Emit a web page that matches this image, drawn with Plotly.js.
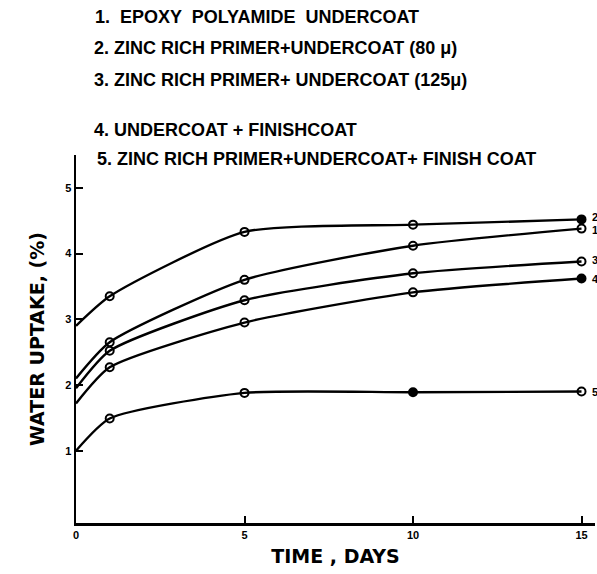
<!DOCTYPE html>
<html><head><meta charset="utf-8">
<script src="https://cdn.plot.ly/plotly-3.0.1.min.js"></script>
<style>body{margin:0;background:#fff}#chart{width:597px;height:574px}</style>
</head><body><div id="chart"></div>
<script>
const days = [0, 1, 5, 10, 15];
const seriesNames = ['1', '2', '3', '4', '5'];
const s1 = [2.1, 2.65, 3.6, 4.12, 4.38];
const s2 = [2.9, 3.35, 4.33, 4.44, 4.52];
const s3 = [1.95, 2.52, 3.29, 3.7, 3.88];
const s4 = [1.72, 2.27, 2.95, 3.41, 3.62];
const s5 = [1.0, 1.49, 1.88, 1.89, 1.9];
const legendLines = [
  '1.  EPOXY  POLYAMIDE  UNDERCOAT',
  '2. ZINC RICH PRIMER+UNDERCOAT (80 \u03bc)',
  '3. ZINC RICH PRIMER+ UNDERCOAT (125\u03bc)',
  '4. UNDERCOAT + FINISHCOAT',
  '5. ZINC RICH PRIMER+UNDERCOAT+ FINISH COAT'
];
const xTicks = [0, 5, 10, 15];
const yTicks = [1, 2, 3, 4, 5];

const allSeries = [s1, s2, s3, s4, s5];
const filled = [[], [4], [], [4], [3]];
const traces = [];
allSeries.forEach((ys, i) => {
  traces.push({x: days, y: ys, mode: 'lines', line: {color: '#000', width: 2.4, shape: 'spline', smoothing: 0.6}, hoverinfo: 'skip', showlegend: false});
  const mx = days.slice(1), my = ys.slice(1);
  const sym = mx.map((_, k) => filled[i].includes(k + 1) ? 'circle' : 'circle-open');
  traces.push({x: mx, y: my, mode: 'markers', marker: {symbol: sym, size: 8, color: '#000', line: {color: '#000', width: 2}}, showlegend: false});
});

const F = 'Liberation Sans, Arial, sans-serif';
const FD = 'DejaVu Sans, sans-serif';
const annotations = [];
const legY = [17, 48, 80, 130, 159];
const legX = [93, 92, 92, 92, 95];
legendLines.forEach((t, i) => {
  annotations.push({xref: 'paper', yref: 'paper', x: (legX[i] - 76) / 519, y: 1 + (155 - legY[i]) / 368, xanchor: 'left', yanchor: 'middle', text: '<b>' + t + '</b>', showarrow: false, font: {family: F, size: 18, color: '#000'}});
});
const endY = [4.36, 4.56, 3.9, 3.62, 1.9];
seriesNames.forEach((n, i) => {
  annotations.push({x: 15.25, y: endY[i], xref: 'x', yref: 'y', xanchor: 'left', yanchor: 'middle', text: '<b>' + n + '</b>', showarrow: false, font: {family: F, size: 11, color: '#000'}});
});

const layout = {
  width: 597, height: 574,
  margin: {l: 76, r: 2, t: 155, b: 51},
  paper_bgcolor: '#fff', plot_bgcolor: '#fff',
  showlegend: false,
  xaxis: {range: [0, 15.4], tickvals: xTicks, ticktext: xTicks.map(String), ticks: 'inside', ticklen: 7, tickwidth: 2, tickcolor: '#000',
    showline: true, linecolor: '#000', linewidth: 2.5, showgrid: false, zeroline: false,
    tickfont: {family: F, size: 11, color: '#000', weight: 'bold'},
    title: {text: '<b>TIME , DAYS</b>', font: {family: FD, size: 19, color: '#000'}, standoff: 10}},
  yaxis: {range: [-0.1, 5.5], tickvals: yTicks, ticktext: yTicks.map(String), ticks: 'inside', ticklen: 7, tickwidth: 2, tickcolor: '#000',
    showline: true, linecolor: '#000', linewidth: 2.5, showgrid: false, zeroline: false,
    tickfont: {family: F, size: 11, color: '#000', weight: 'bold'},
    title: {text: '<b>WATER UPTAKE, (%)</b>', font: {family: FD, size: 19, color: '#000'}, standoff: 16}},
  annotations: annotations
};
Plotly.newPlot('chart', traces, layout, {displayModeBar: false, staticPlot: true});
</script></body></html>
